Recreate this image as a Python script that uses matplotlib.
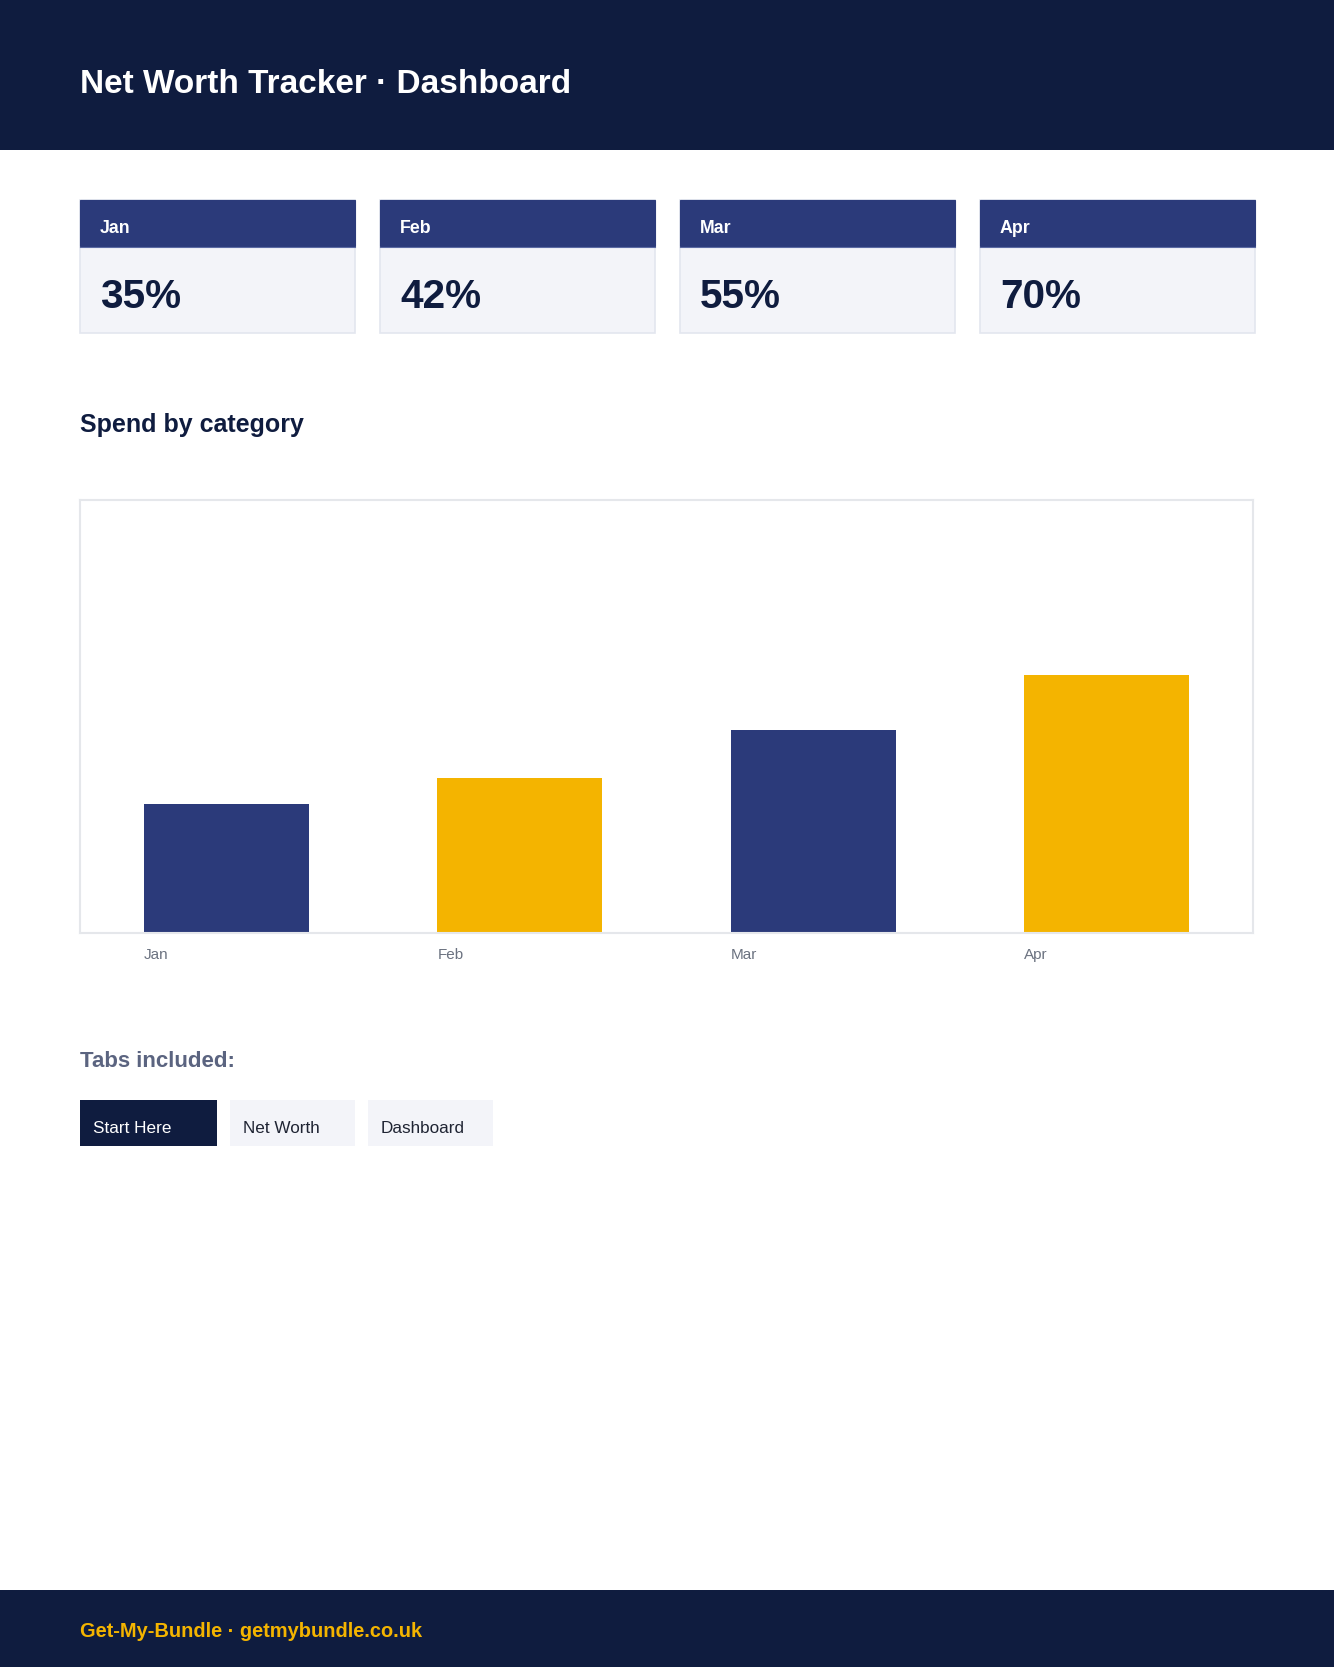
import matplotlib
matplotlib.use("Agg")
import numpy as np
import matplotlib.pyplot as plt
from matplotlib.patches import Rectangle

plt.rcParams['font.family'] = ['Liberation Sans', 'DejaVu Sans']

# data
months = ["Jan", "Feb", "Mar", "Apr"]
progress = [35, 42, 55, 70]  # [%]
bar_colors = ["#2b3a7a", "#f4b400", "#2b3a7a", "#f4b400"]
tabs = ["Start Here", "Net Worth", "Dashboard"]
title = "Net Worth Tracker \u00b7 Dashboard"
footer = "Get-My-Bundle \u00b7 getmybundle.co.uk"

# palette
navy = "#0f1c3f"
card_head = "#2b3a7a"
light = "#f3f4f9"
border = "#e3e6ef"
yellow = "#f4b400"

W, H = 1334, 1667
fig = plt.figure(figsize=(W / 100, H / 100), dpi=100)
page = fig.add_axes([0, 0, 1, 1])
page.set_xlim(0, W)
page.set_ylim(H, 0)
page.axis("off")

# header / footer bands
page.add_patch(Rectangle((0, 0), W, 150, color=navy, lw=0))
page.text(80, 93, title, color="white", fontsize=24, fontweight="bold", va="baseline")
page.add_patch(Rectangle((0, 1590), W, H - 1590, color=navy, lw=0))
page.text(80, 1637, footer, color=yellow, fontsize=14.4, fontweight="bold", va="baseline")

# KPI cards
for k, (m, v) in enumerate(zip(months, progress)):
    x0 = 80 + k * 300
    page.add_patch(Rectangle((x0, 200), 275, 133, facecolor=light, edgecolor=border, lw=1.2))
    page.add_patch(Rectangle((x0, 200), 275, 46, facecolor=card_head, edgecolor=card_head, lw=0.8))
    page.plot([x0, x0 + 275], [246.5, 246.5], color="#5b6aa3", lw=0.8)
    page.text(x0 + 20, 232.5, m, color="white", fontsize=12.8, fontweight="bold", va="baseline")
    page.text(x0 + 20, 308, f"{v}%", color=navy, fontsize=29.2, fontweight="bold", va="baseline")

page.text(80, 432, "Spend by category", color=navy, fontsize=18, fontweight="bold", va="baseline")

# bar chart
ax = fig.add_axes([80 / W, 1 - 933 / H, (1253 - 80) / W, (933 - 500) / H])
x = np.arange(len(months))
width = 0.563
ax.bar(x, progress, width=width, color=bar_colors, zorder=2)
ax.set_xlim(-0.5, len(months) - 0.5)
ax.set_ylim(0, 117.5)
ax.set_yticks([])
ax.set_xticks(x - width / 2, months)
for lab in ax.get_xticklabels():
    lab.set_horizontalalignment("left")
ax.tick_params(axis="x", length=0, pad=11, labelsize=11, labelcolor="#6b7280")
for s in ax.spines.values():
    s.set_color("#e5e7eb")
    s.set_linewidth(1.5)

# tabs
page.text(80, 1067, "Tabs included:", color="#5b6480", fontsize=16, fontweight="bold", va="baseline")
tab_x = [80, 230, 368]
tab_w = [137, 125, 125]
for k, name in enumerate(tabs):
    face = navy if k == 0 else light
    tcol = "white" if k == 0 else "#1f2433"
    page.add_patch(Rectangle((tab_x[k], 1100), tab_w[k], 46, color=face, lw=0))
    page.text(tab_x[k] + 13, 1133, name, color=tcol, fontsize=12.3, va="baseline")

fig.savefig("out.png", dpi=100, facecolor="white")
